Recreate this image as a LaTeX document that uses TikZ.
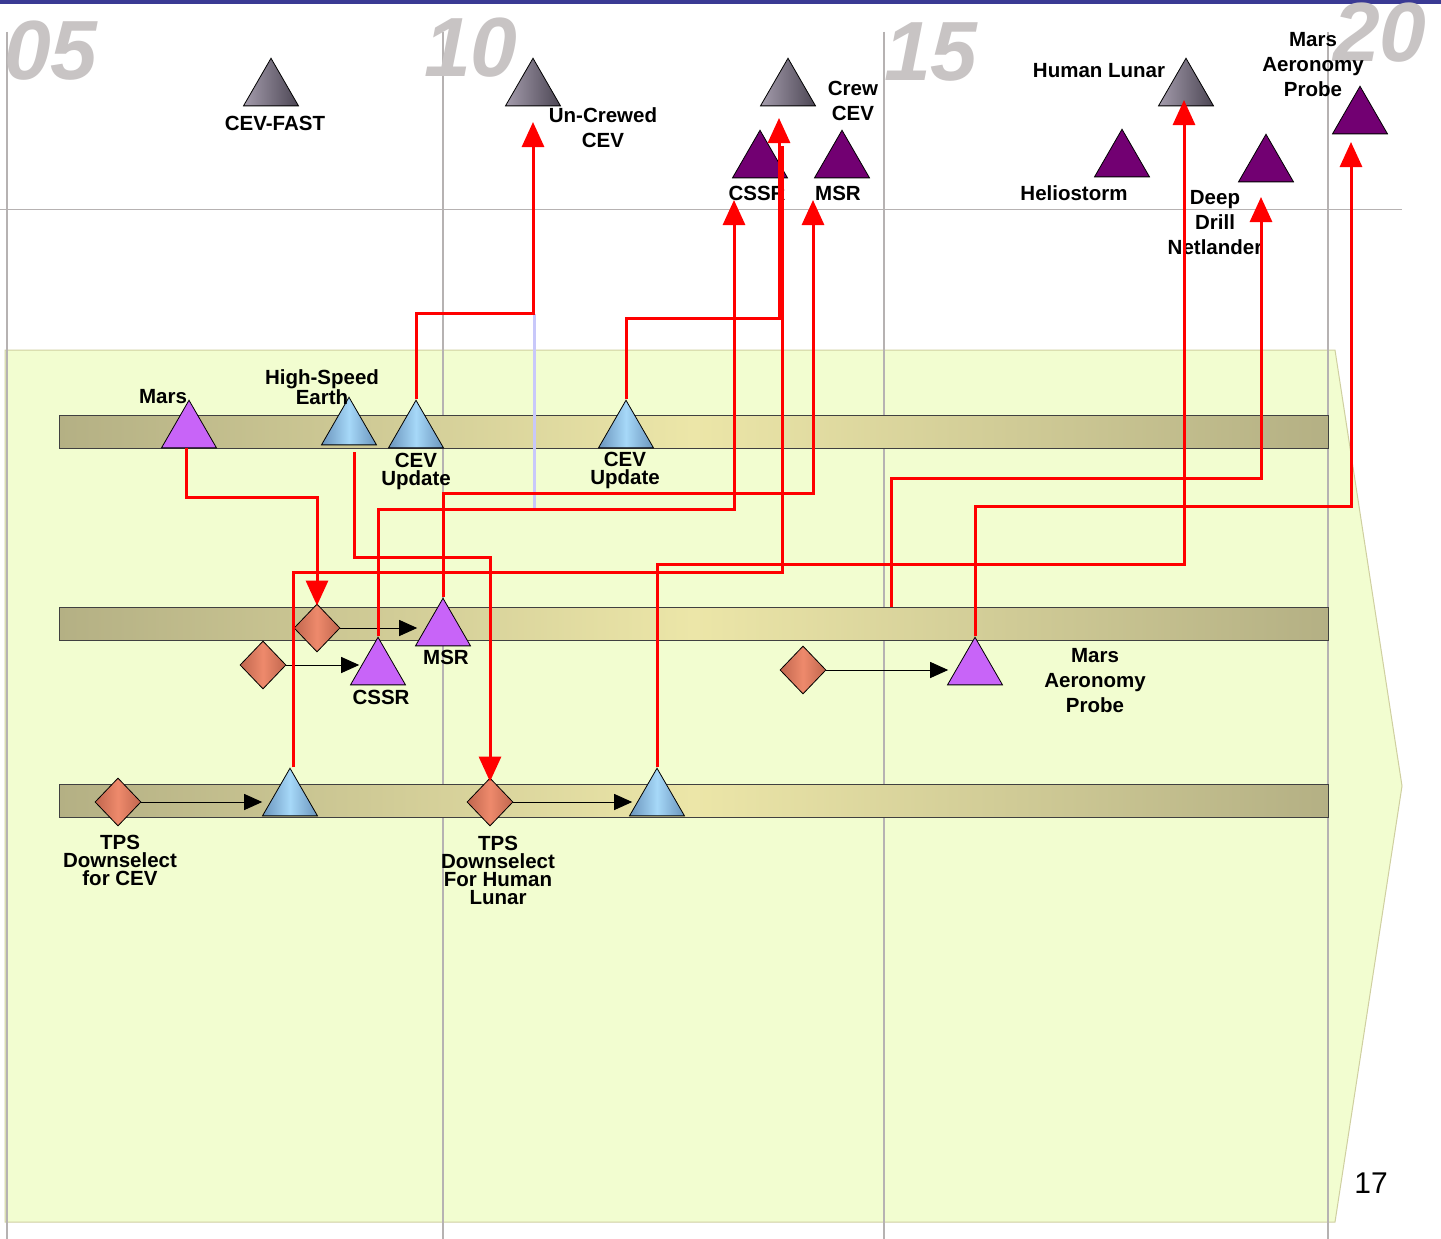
\documentclass[tikz,border=0pt]{standalone}
\usepackage{fontspec}
\setmainfont{Liberation Sans}
\usetikzlibrary{arrows.meta,shapes.geometric}
\definecolor{greenbg}{HTML}{F2FDD0}
\definecolor{greenedge}{HTML}{CFCFA0}
\definecolor{topband}{HTML}{3A3A94}
\definecolor{vlinec}{HTML}{B6B2B2}
\definecolor{yearc}{HTML}{C8C4C4}
\definecolor{bardark}{HTML}{B4B084}
\definecolor{barlight}{HTML}{ECE6A8}
\definecolor{bluedark}{HTML}{6A94BC}
\definecolor{bluelight}{HTML}{A6D8F8}
\definecolor{violet}{HTML}{C864F8}
\definecolor{dpurple}{HTML}{720072}
\definecolor{graylight}{HTML}{A49CAC}
\definecolor{graydark}{HTML}{4C4654}
\definecolor{diadark}{HTML}{C0664E}
\definecolor{dialight}{HTML}{EE8A6C}
\definecolor{lavender}{HTML}{C8C8FA}
\begin{document}
\begin{tikzpicture}[x=1pt,y=-1pt,
  tri/.style={regular polygon, regular polygon sides=3, minimum size=63.5pt, inner sep=0pt, draw=black, line width=0.8pt},
  gtri/.style={tri, left color=graylight, right color=graydark},
  ptri/.style={tri, fill=dpurple},
  vtri/.style={tri, fill=violet},
  btri/.style={tri, left color=bluedark, right color=bluedark, middle color=bluelight},
  dia/.style={diamond, minimum width=46pt, minimum height=48pt, inner sep=0pt, draw=black, line width=0.8pt, left color=diadark, right color=diadark, middle color=dialight},
  tbar/.style={rectangle, minimum width=1269pt, minimum height=33pt, inner sep=0pt, draw=black!75, line width=1pt, left color=bardark, right color=bardark, middle color=barlight},
  lbl/.style={font=\bfseries\fontsize{20.5}{25}\selectfont, align=center, inner sep=0pt},
  lbls/.style={font=\bfseries\fontsize{20.5}{18}\selectfont, align=center, inner sep=0pt},
  year/.style={font=\bfseries\itshape\fontsize{84}{84}\selectfont, text=yearc, inner sep=0pt, anchor=base west},
  rl/.style={red, line width=3pt},
  ra/.style={rl, -{Triangle[length=25pt,width=22pt]}},
  ba/.style={black, line width=1pt, -{Triangle[length=18pt,width=16pt]}},
  vline/.style={vlinec, line width=2pt},
  lav/.style={lavender, line width=3pt}
]
\useasboundingbox (0,0) rectangle (1441,1239);
\fill[white] (0,0) rectangle (1441,1239);
\fill[topband] (0,0) rectangle (1441,4);
% timeline arrow region
\draw[greenedge, fill=greenbg, line width=1pt] (5,350) -- (1335,350) -- (1402,786) -- (1335,1222) -- (5,1222) -- cycle;
\draw[vlinec, line width=1pt] (0,209) -- (1402,209);
\foreach \x in {7,443,884,1328} \draw[vline] (\x,32) -- (\x,1239);
% years
\node[year] (y05) at (4,80) {05};
\node[year] (y10) at (424,77) {10};
\node[year] (y15) at (884,81) {15};
\node[year] (y20) at (1333,62) {20};
\node[font=\fontsize{30}{30}\selectfont, inner sep=0pt] (pg) at (1371,1183) {17};
% bars
\node[tbar] (bar1) at (693.5,431.5) {};
\node[tbar] (bar2) at (693.5,623.5) {};
\node[tbar] (bar3) at (693.5,800.5) {};
% top triangles
\node[gtri] (cevfast) at (271,90) {};
\node[gtri] (uncrew) at (533,90) {};
\node[gtri] (crew) at (788,90) {};
\node[gtri] (hlunar) at (1186,90) {};
\node[ptri] (cssrT) at (760,162) {};
\node[ptri] (msrT) at (842,162) {};
\node[ptri] (helio) at (1122,161) {};
\node[ptri] (ddn) at (1266,166) {};
\node[ptri] (mapT) at (1360,118) {};
% bar 1
\node[vtri] (mars) at (189,432) {};
\node[btri] (hse) at (349,429) {};
\node[btri] (cev1) at (416,432) {};
\node[btri] (cev2) at (626,432) {};
% bar 2
\node[vtri] (msrB) at (443,630) {};
\node[vtri] (cssrB) at (378,669) {};
\node[vtri] (mapB) at (975,669) {};
\node[dia] (d1) at (317,628) {};
\node[dia] (d2) at (263,665) {};
\node[dia] (d3) at (803,670) {};
% bar 3
\node[btri] (b1) at (290,800) {};
\node[btri] (b2) at (657,800) {};
\node[dia] (d4) at (118,802) {};
\node[dia] (d5) at (490,802) {};
% labels top
\node[lbl] (lcevfast) at (275,123) {CEV-FAST};
\node[lbl] (luncrew) at (603,127.5) {Un-Crewed\\CEV};
\node[lbl] (lcrew) at (853,100.5) {Crew\\CEV};
\node[lbl] (lhlunar) at (1099,71) {Human Lunar};
\node[lbl] (lcssrT) at (757,193) {CSSR};
\node[lbl] (lmsrT) at (838,193) {MSR};
\node[lbl] (lhelio) at (1074,193) {Heliostorm};
\node[lbl] (lddn) at (1215,223) {Deep\\Drill\\Netlander};
\node[lbl] (lmapT) at (1313,65) {Mars\\Aeronomy\\Probe};
% labels middle
\node[lbls] (lmars) at (163,397) {Mars};
\node[lbls] (lhse) at (322,387) {High-Speed\\Earth};
\node[lbls] (lcev1) at (416,471) {CEV\\Update};
\node[lbls] (lcev2) at (625,470) {CEV\\Update};
\node[lbls] (lmsrB) at (446,657) {MSR};
\node[lbls] (lcssrB) at (381,697) {CSSR};
\node[lbl] (lmapB) at (1095,681) {Mars\\Aeronomy\\Probe};
\node[lbls] (ld4) at (120,860) {TPS\\Downselect\\for CEV};
\node[lbls] (ld5) at (498,870.5) {TPS\\Downselect\\For Human\\Lunar};
% black arrows
\draw[ba, shorten >=7pt] (d1.east) -- (d1.east -| msrB.west);
\draw[ba] (d2.east) -- (d2.east -| cssrB.west);
\draw[ba, shorten >=8pt] (d3.east) -- (d3.east -| mapB.west);
\draw[ba, shorten >=9pt] (d4.east) -- (d4.east -| b1.west);
\draw[ba, shorten >=6pt] (d5.east) -- (d5.east -| b2.west);
% arrow tip coordinates
\coordinate (tipUC) at (533,122);
\coordinate (tipCC) at (779,118);
\coordinate (endCC) at (782,146);
\coordinate (tipCS) at (734,200);
\coordinate (tipMS) at (813,200);
\coordinate (tipHL) at (1184,100);
\coordinate (tipDD) at (1261,197);
\coordinate (tipMA) at (1351,142);
\coordinate (ddStart) at (891,607);
\coordinate (lv1) at (534,314);
\coordinate (lv2) at (534,510);
% red connectors
\draw[lav] (lv1) -- (lv2);
\draw[ra] (cev1.corner 1) -- ++(0,-86) -| (tipUC);
\draw[ra] (cev2.corner 1) -- ++(0,-81) -| (tipCC);
\draw[rl] ([xshift=3pt]b1.corner 1) -- ++(0,-195) -| (endCC);
\draw[ra] (cssrB.corner 1) -- ++(0,-127) -| (tipCS);
\draw[ra] (msrB.corner 1) -- ++(0,-104) -| (tipMS);
\draw[ra] (b2.corner 1) -- ++(0,-203) -| (tipHL);
\draw[ra] (ddStart) -- ++(0,-129) -| (tipDD);
\draw[ra] (mapB.corner 1) -- ++(0,-130) -| (tipMA);
\draw[ra] ([xshift=-3pt]mars.south) -- ++(0,49) -| ([yshift=-2pt]d1.north);
\draw[ra] ([xshift=5pt,yshift=-7pt]hse.south) -- ++(0,105) -| ([yshift=-4pt]d5.north);
\end{tikzpicture}
\end{document}
